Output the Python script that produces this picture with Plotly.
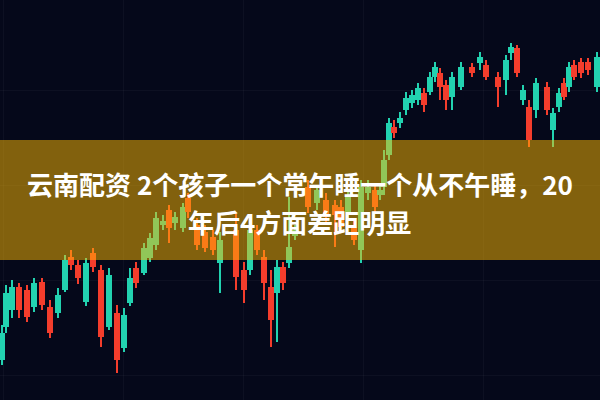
import numpy as np
import plotly.graph_objects as go

# time index of each candle
t = [2, 6, 12, 19, 27, 34, 42, 50, 58, 65, 71, 78, 86, 93, 101, 109, 117, 124, 130, 136,
     144, 150, 156, 163, 169, 175, 183, 188, 197, 205, 213, 220, 236, 244, 250, 257, 264, 271, 277, 283,
     289, 295, 308, 317, 326, 335, 341, 348, 354, 361, 368, 375, 380, 384, 389, 394, 400, 406, 412, 418,
     424, 430, 435, 440, 446, 452, 461, 472, 480, 486, 498, 506, 511, 517, 523, 529, 536, 547, 553, 559,
     564, 569, 574, 581, 588, 597]
open_ = [40, 73, 90, 113, 110, 93, 118, 93, 87, 110, 143, 135, 98, 147, 130, 73, 87, 52, 97, 132,
         127, 142, 155, 175, 190, 177, 172, 202, 175, 168, 163, 137, 170, 130, 130, 170, 143, 113, 107, 133,
         137, 164, 213, 197, 200, 195, 193, 188, 173, 150, 207, 210, 205, 213, 245, 273, 277, 290, 297, 300,
         307, 308, 323, 327, 315, 303, 313, 333, 337, 335, 323, 320, 347, 352, 300, 293, 290, 313, 270, 293,
         317, 313, 335, 338, 338, 313]
high = [75, 115, 120, 117, 115, 122, 122, 100, 112, 145, 150, 140, 142, 152, 135, 132, 95, 92, 132, 138,
        157, 167, 188, 185, 195, 188, 197, 207, 182, 175, 170, 168, 187, 138, 175, 175, 150, 130, 140, 138,
        203, 175, 220, 215, 207, 200, 200, 210, 180, 220, 220, 217, 215, 250, 282, 280, 288, 308, 310, 317,
        312, 328, 338, 332, 320, 328, 338, 337, 348, 340, 328, 345, 357, 355, 315, 300, 322, 318, 292, 312,
        322, 338, 340, 342, 342, 348]
low = [35, 67, 82, 82, 78, 88, 90, 62, 82, 108, 130, 116, 94, 128, 53, 70, 27, 48, 94, 112,
       125, 138, 150, 170, 157, 170, 168, 182, 150, 148, 145, 107, 110, 97, 125, 145, 100, 53, 58, 110,
       132, 160, 187, 190, 178, 153, 168, 182, 155, 137, 200, 188, 200, 205, 240, 262, 272, 285, 292, 295,
       288, 305, 318, 300, 290, 290, 310, 323, 330, 320, 293, 305, 340, 323, 295, 253, 282, 285, 253, 288,
       300, 308, 320, 322, 325, 308]
close = [67, 107, 113, 90, 83, 117, 95, 67, 105, 140, 135, 122, 137, 133, 63, 125, 40, 85, 122, 117,
         152, 162, 182, 179, 172, 183, 193, 188, 155, 152, 150, 160, 123, 110, 170, 150, 117, 80, 133, 117,
         153, 170, 193, 210, 183, 185, 173, 205, 160, 213, 213, 193, 210, 240, 277, 267, 282, 302, 305, 312,
         295, 323, 333, 313, 300, 323, 333, 327, 343, 323, 313, 340, 353, 327, 310, 260, 317, 290, 287, 307,
         303, 333, 323, 327, 330, 343]

title_line1 = "云南配资 2个孩子一个常午睡一个从不午睡，20"
title_line2 = "年后4方面差距明显"

UP = "#22d2b0"
DOWN = "#f43d2c"

t_a = np.array(t, dtype=float)
o_a = np.array(open_, dtype=float)
h_a = np.array(high, dtype=float)
l_a = np.array(low, dtype=float)
c_a = np.array(close, dtype=float)
up = c_a >= o_a
cols = np.where(up, UP, DOWN)

fig = go.Figure()
# wicks
fig.add_trace(go.Bar(x=t_a, y=h_a - l_a, base=l_a, width=1.6,
                     marker=dict(color=cols, line=dict(width=0)), hoverinfo="skip"))
# bodies
body_lo = np.minimum(o_a, c_a)
body_h = np.maximum(np.abs(c_a - o_a), 2)
fig.add_trace(go.Bar(x=t_a, y=body_h, base=body_lo, width=6,
                     marker=dict(color=cols, line=dict(width=0)), hoverinfo="skip"))

fig.update_layout(
    width=600, height=400,
    margin=dict(l=0, r=0, t=0, b=0),
    paper_bgcolor="#05081a", plot_bgcolor="#05081a",
    barmode="overlay", bargap=0, showlegend=False,
    xaxis=dict(range=[0, 600], showticklabels=False, showgrid=True,
               gridcolor="rgba(255,255,255,0.035)", dtick=120, tick0=3, zeroline=False),
    yaxis=dict(range=[0, 400], showticklabels=False, showgrid=True,
               gridcolor="rgba(255,255,255,0.035)", dtick=95, tick0=25, zeroline=False),
    shapes=[dict(type="rect", xref="paper", yref="paper", x0=0, x1=1, y0=0.35, y1=0.65,
                 fillcolor="rgba(255,186,0,0.5)", line=dict(width=0), layer="above")],
    annotations=[
        dict(text="<b>" + title_line1 + "</b>", xref="paper", yref="paper", x=0.5, y=(400 - 183) / 400,
             xanchor="center", yanchor="middle", showarrow=False,
             font=dict(family="Noto Sans CJK SC", size=26, color="white")),
        dict(text="<b>" + title_line2 + "</b>", xref="paper", yref="paper", x=0.4985, y=(400 - 221) / 400,
             xanchor="center", yanchor="middle", showarrow=False,
             font=dict(family="Noto Sans CJK SC", size=26, color="white")),
    ],
)

fig.write_html("out.html", config={"displayModeBar": False},
               post_script="document.body.style.margin='0';document.body.style.overflow='hidden';")
